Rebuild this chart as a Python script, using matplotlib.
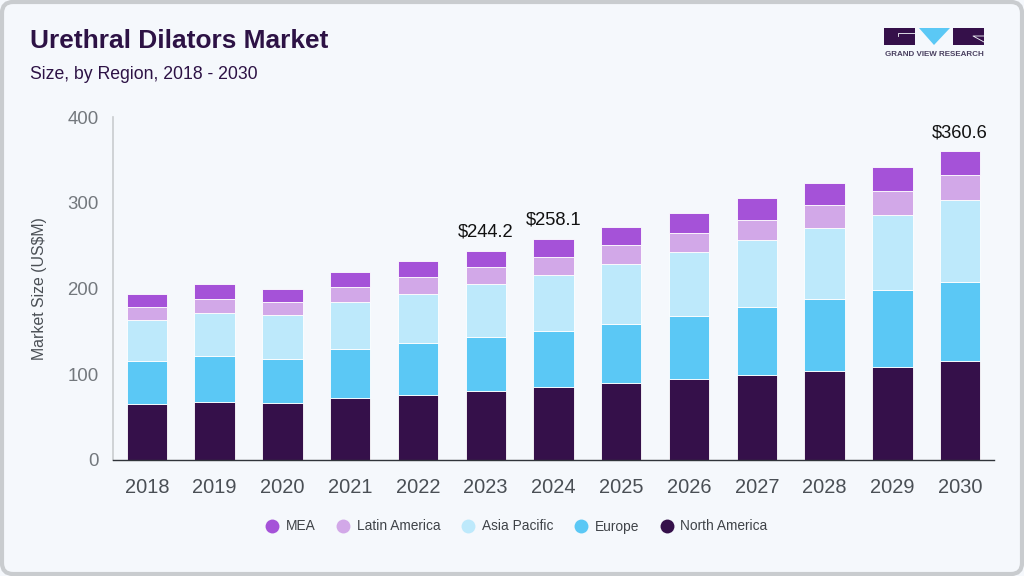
import matplotlib
matplotlib.use("Agg")
import matplotlib.pyplot as plt
from matplotlib.patches import FancyBboxPatch, Polygon, Rectangle
from matplotlib.lines import Line2D
import numpy as np

plt.rcParams["font.family"] = ["Liberation Sans", "DejaVu Sans"]

years = [2018, 2019, 2020, 2021, 2022, 2023, 2024, 2025, 2026, 2027, 2028, 2029, 2030]
north_america = [65, 68, 66, 72, 76, 80, 85, 89.5, 94, 99, 103.5, 109, 115]
europe = [50, 53, 52, 57, 60, 63, 66, 69.5, 74.5, 79, 84, 89, 93]
asia_pacific = [48, 51, 51, 55, 58, 62, 65, 70, 73.5, 78, 83, 88, 95]
latin_america = [15, 16, 15, 18, 19, 19.5, 21, 22, 23, 24, 27, 28, 29]
mea = [16, 17, 16, 17, 18.5, 19.7, 21.1, 21, 23.5, 25, 25, 28, 28.6]
totals = {2023: "$244.2", 2024: "$258.1", 2030: "$360.6"}

series = [
    ("North America", north_america, "#35104a"),
    ("Europe", europe, "#5bc8f5"),
    ("Asia Pacific", asia_pacific, "#bde9fb"),
    ("Latin America", latin_america, "#d2a8e8"),
    ("MEA", mea, "#a552d8"),
]

W, H = 1024, 576
fig = plt.figure(figsize=(W / 100, H / 100), dpi=100, facecolor="white")

# card behind everything, drawn in pixel coords
bg = fig.add_axes([0, 0, 1, 1], zorder=0)
bg.set_xlim(0, W)
bg.set_ylim(H, 0)
bg.axis("off")
bg.add_patch(Rectangle((0, 0), W, H, fc="#f5f8fc", ec="none"))
bg.add_patch(FancyBboxPatch((2, 2), W - 4, H - 4, boxstyle="round,pad=0,rounding_size=11",
                            fc="#f5f8fc", ec="#c9cccf", lw=3))

bg.text(30, 41.5, "Urethral Dilators Market", fontsize=18.9, fontweight="bold",
        color="#2d1245", va="center", ha="left")
bg.text(30, 74.6, "Size, by Region, 2018 - 2030", fontsize=12.7, color="#2d1245",
        va="center", ha="left")

# logo
bg.add_patch(Rectangle((884, 28), 31, 17, fc="#35104a", ec="none"))
bg.add_patch(Rectangle((953, 28), 31, 17, fc="#35104a", ec="none"))
bg.add_patch(Polygon([[919, 28], [950, 28], [934, 45]], fc="#5bc8f5", ec="none"))
bg.plot([898, 898, 915], [36, 33, 33], color="#f5f8fc", lw=0.6)
bg.plot([984, 973, 984], [42, 36, 36], color="#f5f8fc", lw=0.6)
bg.text(934, 54.5, "GRAND VIEW RESEARCH", fontsize=5.8, fontweight="bold",
        color="#4a4060", va="center", ha="center")

# plot area, y=0 at 460 and y=400 at 117
left, right, top, bottom = 113, 994, 117, 460
ax = fig.add_axes([left / W, 1 - bottom / H, (right - left) / W, (bottom - top) / H], zorder=1)
ax.patch.set_alpha(0)

x = np.arange(len(years))
base = np.zeros(len(years))
for name, values, color in series:
    ax.bar(x, values, bottom=base, width=0.595, color=color, edgecolor="white",
           linewidth=0.6, label=name)
    base = base + np.array(values)

for i, year in enumerate(years):
    if year in totals:
        ax.annotate(totals[year], (i, base[i]), xytext=(0, 7), textcoords="offset points",
                    ha="center", va="bottom", fontsize=13.2, color="#111111")

ax.set_xlim(-0.5, 12.5)
ax.set_ylim(0, 400)
ax.set_xticks(x)
ax.set_xticklabels(years)
ax.set_yticks([0, 100, 200, 300, 400])
ax.tick_params(axis="x", length=0, pad=13, labelsize=14.4, labelcolor="#4a4f55")
ax.tick_params(axis="y", length=0, pad=10.5, labelsize=13.4, labelcolor="#73787d")
ax.set_ylabel("Market Size (US$M)", fontsize=11.4, color="#4a4f55", labelpad=14.6)
ax.spines["top"].set_visible(False)
ax.spines["right"].set_visible(False)
ax.spines["left"].set_color("#c9cccf")
ax.spines["left"].set_linewidth(1.2)
ax.spines["bottom"].set_color("#30343a")
ax.spines["bottom"].set_linewidth(1.0)

handles = [Line2D([], [], ls="none", marker="o", ms=10, mfc=c, mec="none", label=n)
           for n, _, c in reversed(series)]
fig.legend(handles=handles, loc="center", bbox_to_anchor=(516.5 / W, 1 - 526.5 / H), ncol=5,
           frameon=False, fontsize=9.9, labelcolor="#3f4348", handlelength=1,
           handletextpad=0.5, columnspacing=1.5)

fig.savefig("out.png", dpi=100, facecolor=fig.get_facecolor())
